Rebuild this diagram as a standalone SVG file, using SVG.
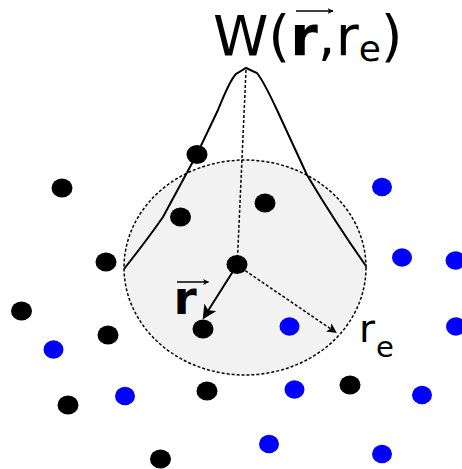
<svg xmlns="http://www.w3.org/2000/svg" width="462" height="469" viewBox="0 0 462 469">
<style>
.b{fill:#000}
.u{fill:#0000ff}
.t{font-family:"DejaVu Sans","Liberation Sans",sans-serif;fill:#000}
.dash{fill:none;stroke:#000;stroke-width:1.5;stroke-dasharray:3,2}
</style>
<defs>
<marker id="ah" viewBox="0 0 10 10" refX="9" refY="5" markerWidth="6" markerHeight="6" markerUnits="userSpaceOnUse" orient="auto"><path d="M0,0 L10,5 L0,10 L2.5,5 z" fill="#000"/></marker>
<marker id="ah2" viewBox="0 0 10 10" refX="9" refY="5" markerWidth="10" markerHeight="10" markerUnits="userSpaceOnUse" orient="auto"><path d="M0,0 L10,5 L0,10 L2.5,5 z" fill="#000"/></marker>
<marker id="ah3" viewBox="0 0 10 10" refX="9" refY="5" markerWidth="14" markerHeight="14" markerUnits="userSpaceOnUse" orient="auto"><path d="M0,0 L10,5 L0,10 L2.5,5 z" fill="#000"/></marker>
</defs>
<g id="region">
<ellipse cx="245" cy="267.5" rx="121" ry="107.5" fill="#f2f2f2" stroke="#000" stroke-width="1.5" stroke-dasharray="3,2"/>
</g>
<g id="connectors">
<path d="M124,269 Q147,240 163,217 L197,154 L218,110 Q230,80 236,74 L246,68 L257,73 Q264,82 277,110 L307,175 Q335,222 366,266" fill="none" stroke="#000" stroke-width="2"/>
<line x1="246" y1="70" x2="237.5" y2="258" class="dash"/>
<line x1="237" y1="265" x2="336" y2="332.5" class="dash" marker-end="url(#ah2)"/>
<line x1="237" y1="265" x2="203.5" y2="318" stroke="#000" stroke-width="2" marker-end="url(#ah3)"/>
</g>
<g id="dots-black">
<ellipse class="b" cx="62" cy="188" rx="10.5" ry="9.6"/>
<ellipse class="b" cx="197" cy="154.5" rx="10.5" ry="9.6"/>
<ellipse class="b" cx="180.5" cy="217" rx="10.5" ry="9.6"/>
<ellipse class="b" cx="265" cy="203" rx="10.5" ry="9.6"/>
<ellipse class="b" cx="106" cy="262" rx="10.5" ry="9.6"/>
<ellipse class="b" cx="237" cy="264.5" rx="10.5" ry="9.6"/>
<ellipse class="b" cx="21.5" cy="311" rx="10.5" ry="9.6"/>
<ellipse class="b" cx="108" cy="335" rx="10.5" ry="9.6"/>
<ellipse class="b" cx="203" cy="329" rx="10.5" ry="9.6"/>
<ellipse class="b" cx="68" cy="405" rx="10.5" ry="9.6"/>
<ellipse class="b" cx="207" cy="391" rx="10.5" ry="9.6"/>
<ellipse class="b" cx="350" cy="385" rx="10.5" ry="9.6"/>
<ellipse class="b" cx="160.5" cy="459" rx="10.5" ry="9.6"/>
</g>
<g id="dots-blue">
<ellipse class="u" cx="382" cy="187" rx="10" ry="9.2"/>
<ellipse class="u" cx="402" cy="257.5" rx="10" ry="9.2"/>
<ellipse class="u" cx="455.5" cy="260.5" rx="10" ry="9.2"/>
<ellipse class="u" cx="289.5" cy="326.5" rx="10" ry="9.2"/>
<ellipse class="u" cx="456" cy="326.5" rx="10" ry="9.2"/>
<ellipse class="u" cx="53.5" cy="349.5" rx="10" ry="9.2"/>
<ellipse class="u" cx="125" cy="396" rx="10" ry="9.2"/>
<ellipse class="u" cx="294.5" cy="389.5" rx="10" ry="9.2"/>
<ellipse class="u" cx="422" cy="395" rx="10" ry="9.2"/>
<ellipse class="u" cx="269" cy="444" rx="10" ry="9.2"/>
<ellipse class="u" cx="382" cy="454" rx="10" ry="9.2"/>
</g>
<g id="title">
<text class="t" x="213" y="55" font-size="56">W(<tspan font-weight="bold">r</tspan>,r<tspan font-size="36" dy="6">e</tspan><tspan dy="-6">)</tspan></text>
<line x1="296" y1="11" x2="333" y2="11" stroke="#000" stroke-width="1.5" marker-end="url(#ah)"/>
</g>
<g id="label-r">
<text class="t" x="173.5" y="314" font-size="47" font-weight="bold">r</text>
<line x1="177" y1="282" x2="208.5" y2="282" stroke="#000" stroke-width="1.5" marker-end="url(#ah)"/>
</g>
<g id="label-re">
<text class="t" x="359" y="341.5" font-size="39">r<tspan font-size="29" dx="1" dy="15.5">e</tspan></text>
</g>
</svg>
